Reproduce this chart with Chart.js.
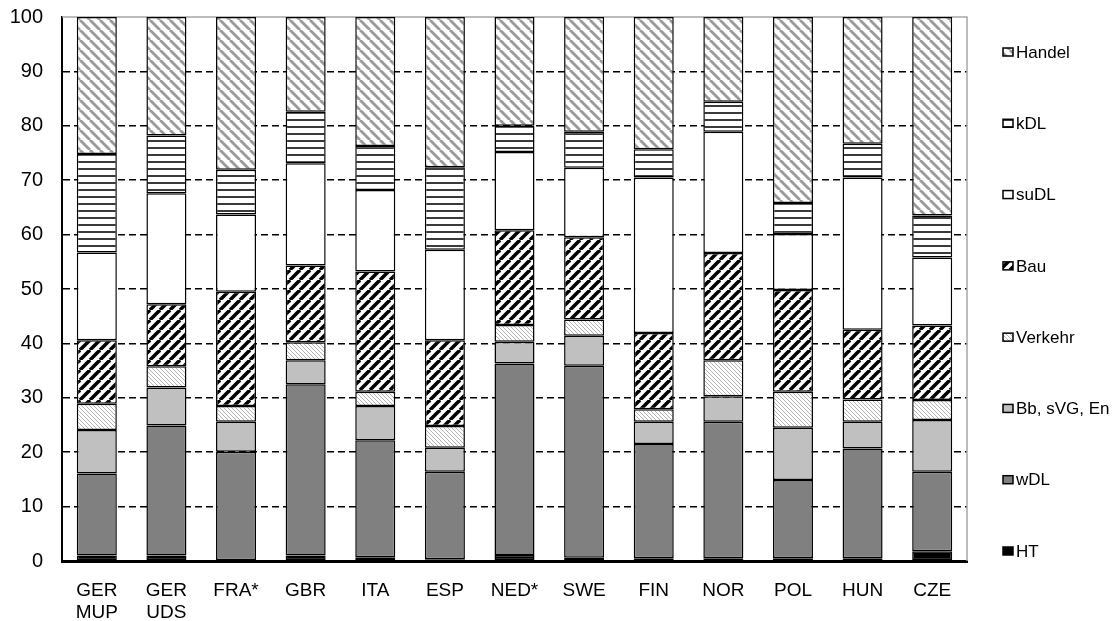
<!DOCTYPE html>
<html>
<head>
<meta charset="utf-8">
<script src="https://cdn.jsdelivr.net/npm/chart.js@4"></script>
<style>
  html, body { margin: 0; padding: 0; background: #fff; overflow: hidden; }
  #wrap { width: 1117px; height: 621px; }
</style>
</head>
<body>
<div id="wrap"><canvas id="sector-chart"></canvas></div>
<script>
"use strict"

// categories and tick labels
const countries = [["GER", "MUP"], ["GER", "UDS"], "FRA*", "GBR", "ITA", "ESP", "NED*", "SWE", "FIN", "NOR", "POL", "HUN", "CZE"];
const yTicks = [0, 10, 20, 30, 40, 50, 60, 70, 80, 90, 100];
const seriesNames = ["HT", "wDL", "Bb, sVG, En", "Verkehr", "Bau", "suDL", "kDL", "Handel"];

// shares in percent, one array per sector
const ht      = [1.0, 1.0, 0.0, 1.0, 0.7, 0.3, 1.1, 0.6, 0.5, 0.5, 0.5, 0.5, 1.8];
const wdl     = [15.1, 23.9, 20.1, 31.5, 21.5, 16.1, 35.2, 35.3, 21.0, 25.1, 14.4, 20.2, 14.6];
const bbSvgEn = [8.0, 7.0, 5.5, 4.4, 6.3, 4.4, 4.0, 5.5, 4.1, 4.7, 9.6, 4.9, 9.5];
const verkehr = [4.8, 3.9, 2.9, 3.3, 2.6, 4.0, 3.1, 3.0, 2.3, 6.6, 6.6, 4.1, 3.7];
const bau     = [11.7, 11.4, 21.0, 14.1, 22.1, 15.8, 17.4, 15.1, 14.0, 19.7, 18.7, 12.8, 13.7];
const sudl    = [16.1, 20.4, 14.2, 18.8, 15.0, 16.6, 14.4, 12.8, 28.6, 22.3, 10.3, 28.0, 12.5];
const kdl     = [18.1, 10.6, 8.2, 9.5, 8.1, 15.2, 4.8, 6.6, 5.2, 5.5, 5.7, 6.2, 7.7];
const handel  = [25.2, 21.8, 28.1, 17.4, 23.7, 27.6, 20.0, 21.1, 24.3, 15.6, 34.2, 23.3, 36.5];

const seriesValues = [ht, wdl, bbSvgEn, verkehr, bau, sudl, kdl, handel];

const FONT = "Arial, 'Liberation Sans', sans-serif";

// small tiles for the hatched fills
const makeDiag = (size, color, lw, rising) => {
    const c = document.createElement("canvas");
    c.width = c.height = size;
    const x = c.getContext("2d");
    x.fillStyle = "#fff";
    x.fillRect(0, 0, size, size);
    x.strokeStyle = color;
    x.lineWidth = lw;
    for (const o of [-size, 0, size]) {
        x.beginPath();
        if (rising) {
            x.moveTo(o, size);
            x.lineTo(o + size, 0);
        } else {
            x.moveTo(o, 0);
            x.lineTo(o + size, size);
        }
        x.stroke();
    }
    return x.createPattern(c, "repeat");
};

const makeHoriz = (size, color, lw) => {
    const c = document.createElement("canvas");
    c.width = c.height = size;
    const x = c.getContext("2d");
    x.fillStyle = "#fff";
    x.fillRect(0, 0, size, size);
    x.fillStyle = color;
    x.fillRect(0, 0, size, lw);
    return x.createPattern(c, "repeat");
};

const fills = [
    "#000000",
    "#808080",
    "#c0c0c0",
    makeDiag(4, "#b4b4b4", 1, false),
    makeDiag(10, "#000000", 3.5, true),
    "#ffffff",
    makeHoriz(7, "#3a3a3a", 2),
    makeDiag(10, "#9a9a9a", 2.8, false)
];

// top and right frame of the plot area, grey
const frame = {
    id: "frame",
    beforeDatasetsDraw(chart) {
        const {ctx, chartArea: a} = chart;
        ctx.save();
        ctx.strokeStyle = "#a6a6a6";
        ctx.lineWidth = 1.5;
        ctx.beginPath();
        ctx.moveTo(a.left, a.top);
        ctx.lineTo(a.right, a.top);
        ctx.lineTo(a.right, a.bottom);
        ctx.stroke();
        ctx.restore();
    }
};

// legend spread over the full height, Handel on top
const sideLegend = {
    id: "sideLegend",
    afterDraw(chart) {
        const {ctx, chartArea: a} = chart;
        const sets = chart.data.datasets.slice().reverse();
        const step = (a.height - 45) / (sets.length - 1);
        ctx.save();
        ctx.font = "17px " + FONT;
        ctx.textBaseline = "middle";
        sets.forEach((ds, i) => {
            const cy = a.top + 35 + i * step;
            const bx = a.right + 36;
            ctx.fillStyle = ds.backgroundColor;
            ctx.fillRect(bx, cy - 4, 10, 8);
            ctx.strokeStyle = "#000";
            ctx.lineWidth = 1.5;
            ctx.strokeRect(bx, cy - 4, 10, 8);
            ctx.fillStyle = "#000";
            ctx.fillText(ds.label, bx + 13, cy + 1);
        });
        ctx.restore();
    }
};

const ctx = document.getElementById("sector-chart");

new Chart(ctx, {
    type: "bar",
    data: {
        labels: countries,
        datasets: seriesNames.map((name, i) => ({
            label: name,
            data: seriesValues[i],
            backgroundColor: fills[i],
            borderColor: "#000",
            borderWidth: 1.5,
            borderSkipped: false,
            categoryPercentage: 1.0,
            barPercentage: 0.575
        }))
    },
    options: {
        responsive: true,
        maintainAspectRatio: false,
        animation: false,
        layout: {
            padding: {left: 0, right: 150, top: 17, bottom: 0}
        },
        plugins: {
            legend: {display: false},
            tooltip: {enabled: false}
        },
        scales: {
            x: {
                stacked: true,
                grid: {display: false, drawTicks: false},
                border: {color: "#000", width: 3},
                ticks: {
                    color: "#000",
                    font: {family: FONT, size: 19, lineHeight: 1.2},
                    padding: 18,
                    maxRotation: 0,
                    autoSkip: false
                },
                afterFit: (scale) => {
                    scale.height = 60;
                    scale.paddingLeft = 0;
                    scale.paddingRight = 0;
                }
            },
            y: {
                stacked: true,
                min: 0,
                max: 100,
                afterBuildTicks: (scale) => {
                    scale.ticks = yTicks.map(v => ({value: v}));
                },
                grid: {
                    color: (c) => (c.tick && (c.tick.value === 100 || c.tick.value === 0)) ? "rgba(0,0,0,0)" : "#000",
                    lineWidth: 1.5,
                    drawTicks: false
                },
                border: {color: "#000", width: 2, dash: [7, 4]},
                ticks: {
                    color: "#000",
                    font: {family: FONT, size: 20},
                    padding: 19
                },
                afterFit: (scale) => {
                    scale.width = 62;
                    scale.paddingTop = 0;
                    scale.paddingBottom = 0;
                }
            }
        }
    },
    plugins: [frame, sideLegend]
});
</script>
</body>
</html>
